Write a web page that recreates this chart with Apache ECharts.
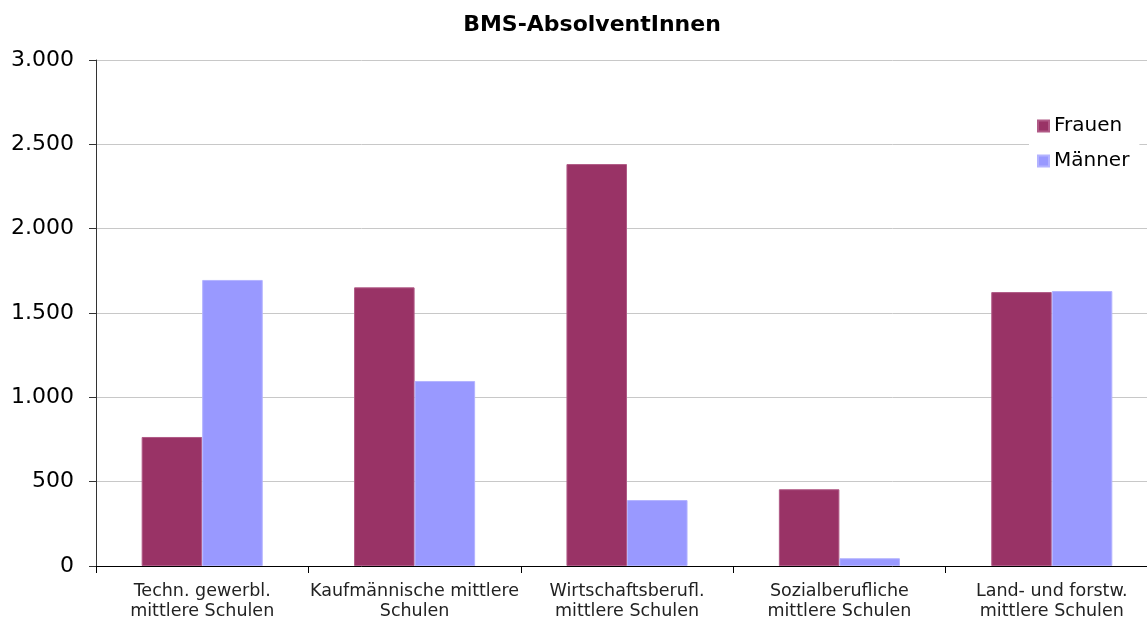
<!DOCTYPE html>
<html>
<head>
<meta charset="utf-8">
<script src="https://cdn.jsdelivr.net/npm/echarts@6/dist/echarts.min.js"></script>
<style>
  html, body { margin: 0; padding: 0; background: #fff; overflow: hidden; width: 1147px; height: 619px; }
  /* the plot runs a little past the right edge of the frame */
  #frame { width: 1147px; height: 619px; overflow: hidden; position: relative; }
  #chart { width: 1160px; height: 619px; position: absolute; left: 0; top: 0; }
</style>
</head>
<body>
<div id="frame"><div id="chart"></div></div>
<script>
// School types (BMS) and graduate counts by gender
const categories = [
  'Techn. gewerbl.\nmittlere Schulen',
  'Kaufmännische mittlere\nSchulen',
  'Wirtschaftsberufl.\nmittlere Schulen',
  'Sozialberufliche\nmittlere Schulen',
  'Land- und forstw.\nmittlere Schulen'
];
const frauen = [765, 1652, 2383, 455, 1624];
const maenner = [1696, 1097, 391, 46, 1630];
const yTicks = [0, 500, 1000, 1500, 2000, 2500, 3000];

const fmt = v => String(v).replace(/\B(?=(\d{3})+(?!\d))/g, '.');
const font = 'DejaVu Sans, Verdana, sans-serif';

const chart = echarts.init(document.getElementById('chart'), null, { renderer: 'canvas' });
chart.setOption({
  animation: false,
  backgroundColor: '#ffffff',
  title: {
    text: 'BMS-AbsolventInnen',
    left: 587,
    top: 9,
    textAlign: 'center',
    textStyle: { fontFamily: font, fontSize: 22, fontWeight: 'bold', color: '#000' }
  },
  legend: {
    data: ['Frauen', 'Männer'],
    orient: 'vertical',
    left: 1029,
    top: 112,
    itemWidth: 11,
    itemHeight: 11,
    itemGap: 15,
    icon: 'rect',
    backgroundColor: '#ffffff',
    padding: [4, 10, 4, 8],
    textStyle: { fontFamily: font, fontSize: 20, color: '#000' }
  },
  grid: {
    left: 96, width: 1062, top: 60, height: 506,
    containLabel: false, outerBoundsMode: 'none'
  },
  xAxis: {
    type: 'category',
    data: categories,
    axisLine: { lineStyle: { color: '#000', width: 1 } },
    axisTick: { show: true, length: 7, interval: 0, lineStyle: { color: '#000' } },
    axisLabel: {
      interval: 0,
      fontFamily: font, fontSize: 17.5, color: '#222', lineHeight: 20.5, margin: 15
    }
  },
  yAxis: {
    type: 'value',
    min: yTicks[0],
    max: yTicks[yTicks.length - 1],
    interval: yTicks[1] - yTicks[0],
    axisLine: { show: true, lineStyle: { color: '#333', width: 1 } },
    axisTick: { show: true, length: 7, lineStyle: { color: '#333' } },
    splitLine: { lineStyle: { color: '#c8c8c8', width: 1 } },
    axisLabel: {
      fontFamily: font, fontSize: 22, color: '#000', margin: 22,
      formatter: v => fmt(v)
    }
  },
  series: [
    {
      name: 'Frauen', type: 'bar', data: frauen,
      barGap: '0%', barCategoryGap: '43%',
      itemStyle: { color: '#993366', borderColor: '#b05a86', borderWidth: 1 }
    },
    {
      name: 'Männer', type: 'bar', data: maenner,
      itemStyle: { color: '#9999ff', borderColor: '#b3b3ff', borderWidth: 1 }
    }
  ]
});
</script>
</body>
</html>
